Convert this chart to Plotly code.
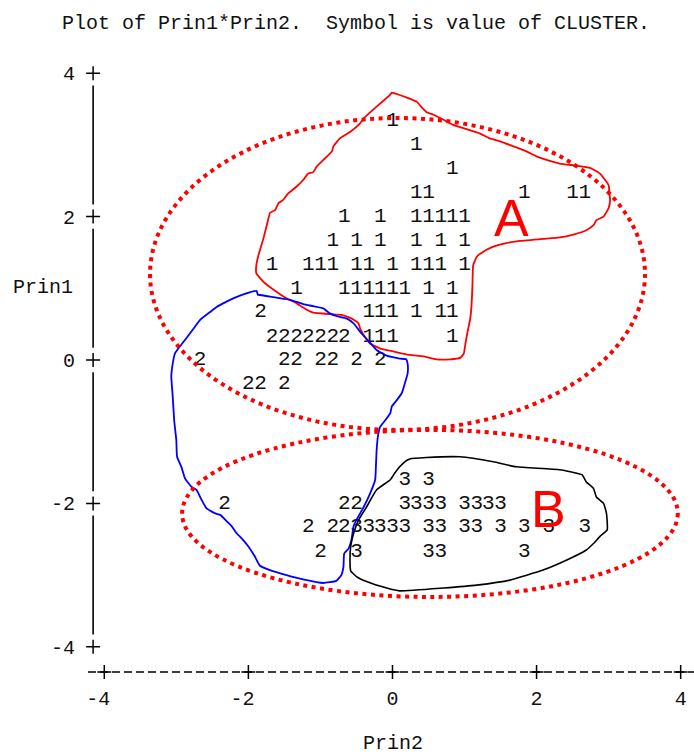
import plotly.graph_objects as go

# ---------------- data (Prin2 = x, Prin1 = y) ----------------
c1_prin2 = [0.0,
            0.33,
            0.83,
            0.33, 0.5, 1.83, 2.5, 2.67,
            -0.67, -0.17, 0.33, 0.5, 0.67, 0.83, 1.0,
            -0.83, -0.5, -0.17, 0.33, 0.67, 1.0,
            -1.67, -1.17, -1.0, -0.83, -0.5, -0.33, 0.0, 0.33, 0.5, 0.67, 1.0,
            -1.33, -0.67, -0.5, -0.33, -0.17, 0.0, 0.17, 0.5, 0.83,
            -0.33, -0.17, 0.0, 0.33, 0.67, 0.83,
            -0.33, -0.17, 0.0, 0.83]
c1_prin1 = [3.33,
            3.0,
            2.67,
            2.33, 2.33, 2.33, 2.33, 2.33,
            2.0, 2.0, 2.0, 2.0, 2.0, 2.0, 2.0,
            1.67, 1.67, 1.67, 1.67, 1.67, 1.67,
            1.33, 1.33, 1.33, 1.33, 1.33, 1.33, 1.33, 1.33, 1.33, 1.33, 1.33,
            1.0, 1.0, 1.0, 1.0, 1.0, 1.0, 1.0, 1.0, 1.0,
            0.67, 0.67, 0.67, 0.67, 0.67, 0.67,
            0.33, 0.33, 0.33, 0.33]

c2_prin2 = [-1.83,
            -1.67, -1.5, -1.33, -1.17, -1.0, -0.83, -0.67,
            -2.67, -1.5, -1.33, -1.0, -0.83, -0.5, -0.17,
            -2.0, -1.83, -1.5,
            -2.33, -0.67, -0.5,
            -1.17, -0.83, -0.67,
            -1.0]
c2_prin1 = [0.67,
            0.33, 0.33, 0.33, 0.33, 0.33, 0.33, 0.33,
            0.0, 0.0, 0.0, 0.0, 0.0, 0.0, 0.0,
            -0.33, -0.33, -0.33,
            -2.0, -2.0, -2.0,
            -2.33, -2.33, -2.33,
            -2.67]

c3_prin2 = [0.17, 0.5,
            0.17, 0.33, 0.5, 0.67, 1.0, 1.17, 1.33, 1.5,
            -0.5, -0.33, -0.17, 0.0, 0.17, 0.5, 0.67, 1.0, 1.17, 1.5, 1.83, 2.17, 2.67,
            -0.5, 0.5, 0.67, 1.83]
c3_prin1 = [-1.67, -1.67,
            -2.0, -2.0, -2.0, -2.0, -2.0, -2.0, -2.0, -2.0,
            -2.33, -2.33, -2.33, -2.33, -2.33, -2.33, -2.33, -2.33, -2.33, -2.33, -2.33, -2.33, -2.33,
            -2.67, -2.67, -2.67, -2.67]

tick_vals = [-4, -2, 0, 2, 4]
x_tick_text = ["-4\u00a0", "-2\u00a0", "0", "2", "4"]
y_tick_text = ["-4", "-2", "0", "2", "4"]

# hand-drawn outlines (data units)
outline_red_x = [-0.01, -0.03, -0.27, -0.40, -0.45, -0.59, -0.73, -0.82, -0.84, -0.96, -1.05, -1.10, -1.17,
                 -1.24, -1.33, -1.45, -1.52, -1.58, -1.63, -1.70, -1.72, -1.79, -1.86, -1.89, -1.89, -1.79,
                 -1.65, -1.47, -1.33, -1.19, -1.10, -0.87, -0.71, -0.57, -0.47, -0.45, -0.40, -0.31, -0.17,
                 0.01, 0.24, 0.43, 0.61, 0.80, 0.94, 0.99, 1.01, 1.03, 1.08, 1.10, 1.11, 1.12, 1.17, 1.26,
                 1.40, 1.58, 1.77, 2.09, 2.32, 2.51, 2.69, 2.79, 2.83, 2.93, 3.00, 3.02, 3.01, 3.00, 2.88,
                 2.74, 2.56, 2.32, 2.14, 2.00, 1.86, 1.68, 1.49, 1.35, 1.21, 1.03, 0.84, 0.71, 0.57, 0.47,
                 0.40, 0.34, 0.20, 0.06, -0.01]
outline_red_y = [3.73, 3.70, 3.49, 3.37, 3.30, 3.18, 3.09, 2.98, 2.91, 2.79, 2.70, 2.62, 2.60,
                 2.51, 2.42, 2.32, 2.23, 2.19, 2.09, 2.05, 1.98, 1.70, 1.46, 1.32, 1.21, 1.09,
                 0.98, 0.86, 0.79, 0.70, 0.66, 0.64, 0.63, 0.58, 0.51, 0.44, 0.35, 0.23, 0.16,
                 0.12, 0.07, 0.05, 0.01, 0.01, 0.03, 0.09, 0.21, 0.33, 0.58, 0.81, 1.05, 1.32, 1.44, 1.51,
                 1.58, 1.63, 1.66, 1.69, 1.71, 1.75, 1.81, 1.88, 1.95, 2.00, 2.12, 2.23, 2.35, 2.44, 2.60,
                 2.68, 2.71, 2.74, 2.79, 2.84, 2.91, 2.98, 3.05, 3.09, 3.16, 3.22, 3.28, 3.35, 3.42, 3.46,
                 3.53, 3.60, 3.66, 3.71, 3.73]

outline_blue_x = [-1.87, -1.885, -2.07, -2.21, -2.35, -2.44, -2.53, -2.67, -2.76, -2.88, -2.95, -3.02, -3.05,
                  -3.07, -3.05, -3.03, -3.00, -2.99, -2.93, -2.88, -2.79, -2.72, -2.65, -2.58, -2.46, -2.39,
                  -2.30, -2.23, -2.16, -2.09, -2.00, -1.91, -1.84, -1.70, -1.47, -1.24, -0.96, -0.78, -0.71,
                  -0.68, -0.67, -0.61, -0.57, -0.54, -0.50, -0.40, -0.31, -0.24, -0.23, -0.22, -0.20, -0.17,
                  -0.10, -0.03, -0.01, 0.06, 0.13, 0.17, 0.21, 0.21, 0.19, 0.10, -0.08, -0.22, -0.31, -0.43,
                  -0.54, -0.64, -0.77, -0.87, -0.96, -1.10, -1.24, -1.42, -1.61, -1.86, -1.87]
outline_blue_y = [0.91, 0.962, 0.916, 0.86, 0.79, 0.74, 0.67, 0.56, 0.44, 0.28, 0.19, 0.09, -0.05,
                  -0.23, -0.51, -0.84, -1.12, -1.35, -1.49, -1.65, -1.77, -1.81, -1.95, -2.07, -2.14, -2.16,
                  -2.25, -2.32, -2.42, -2.49, -2.60, -2.74, -2.87, -2.93, -3.00, -3.06, -3.11, -3.08, -3.00,
                  -2.88, -2.70, -2.63, -2.51, -2.32, -2.23, -2.05, -1.86, -1.67, -1.49, -1.26, -1.05, -0.93,
                  -0.84, -0.74, -0.65, -0.56, -0.46, -0.33, -0.19, -0.05, 0.01, 0.02, 0.06, 0.14, 0.24, 0.37,
                  0.51, 0.58, 0.61, 0.65, 0.72, 0.75, 0.78, 0.84, 0.87, 0.91, 0.91]

outline_black_x = [0.24, 0.47, 0.94, 1.40, 1.72, 2.32, 2.63, 2.69, 2.79, 2.83, 2.93, 2.97, 2.98, 2.88,
                   2.79, 2.69, 2.42, 2.09, 1.63, 1.17, 0.71, 0.10, -0.08, -0.36, -0.50, -0.58, -0.59,
                   -0.58, -0.54, -0.47, -0.36, -0.22, -0.03, 0.03, 0.10, 0.17, 0.24]
outline_black_y = [-1.38, -1.36, -1.35, -1.42, -1.49, -1.53, -1.60, -1.70, -1.79, -1.91, -2.00, -2.14, -2.37, -2.46,
                   -2.56, -2.65, -2.79, -2.93, -3.07, -3.14, -3.18, -3.22, -3.18, -3.09, -3.02, -2.94, -2.79,
                   -2.60, -2.42, -2.23, -2.05, -1.81, -1.67, -1.58, -1.49, -1.42, -1.38]

# dotted ellipses: (center x, center y, radius x, radius y)
ellipse_A = (0.07, 1.20, 3.435, 2.175)
ellipse_B = (0.52, -2.14, 3.44, 1.165)

# ---------------- figure ----------------
MONO = "Liberation Mono, DejaVu Sans Mono, monospace"
X_RANGE = [-4.337, 4.185]
Y_RANGE = [-4.463, 4.184]
Y_AXIS_X = -4.155
X_AXIS_Y = -4.351

fig = go.Figure()

for xs, ys, lab in [(c1_prin2, c1_prin1, "1"), (c2_prin2, c2_prin1, "2"), (c3_prin2, c3_prin1, "3")]:
    fig.add_trace(go.Scatter(
        x=xs, y=ys, mode="text", text=[lab] * len(xs), textposition="middle center",
        textfont=dict(family=MONO, size=21, color="#111111"),
        cliponaxis=False, showlegend=False, hoverinfo="skip", name="CLUSTER " + lab))

# y axis: '|' segments broken around each '+'
gap = 0.17
seg_x, seg_y = [], []
for a, b in zip(tick_vals[:-1], tick_vals[1:]):
    seg_x += [Y_AXIS_X, Y_AXIS_X, None]
    seg_y += [a + gap, b - gap, None]
fig.add_trace(go.Scatter(x=seg_x, y=seg_y, mode="lines", line=dict(color="black", width=1.6),
                         showlegend=False, hoverinfo="skip"))
# x axis: dashed '-' line
fig.add_trace(go.Scatter(x=[X_RANGE[0] + 0.111, X_RANGE[1]], y=[X_AXIS_Y, X_AXIS_Y], mode="lines",
                         line=dict(color="black", width=1.4, dash="8px,4px"),
                         showlegend=False, hoverinfo="skip"))
# '+' tick marks
cross = dict(symbol="cross-thin", size=10, line=dict(width=1.5, color="black"), color="black")
fig.add_trace(go.Scatter(x=[Y_AXIS_X] * len(tick_vals), y=tick_vals, mode="markers", marker=cross,
                         cliponaxis=False, showlegend=False, hoverinfo="skip"))
fig.add_trace(go.Scatter(x=tick_vals, y=[X_AXIS_Y] * len(tick_vals), mode="markers", marker=cross,
                         cliponaxis=False, showlegend=False, hoverinfo="skip"))

# hand-drawn outlines
fig.add_trace(go.Scatter(x=outline_red_x, y=outline_red_y, mode="lines",
                         line=dict(color="#ff0000", width=1.8, shape="spline", smoothing=0.4),
                         showlegend=False, hoverinfo="skip"))
fig.add_trace(go.Scatter(x=outline_blue_x, y=outline_blue_y, mode="lines",
                         line=dict(color="#0000ff", width=1.8, shape="spline", smoothing=0.4),
                         showlegend=False, hoverinfo="skip"))
fig.add_trace(go.Scatter(x=outline_black_x, y=outline_black_y, mode="lines",
                         line=dict(color="#000000", width=1.6, shape="spline", smoothing=0.4),
                         showlegend=False, hoverinfo="skip"))

for cx, cy, rx, ry in (ellipse_A, ellipse_B):
    fig.add_shape(type="circle", xref="x", yref="y", x0=cx - rx, x1=cx + rx, y0=cy - ry, y1=cy + ry,
                  line=dict(color="#ff0000", width=4, dash="4px,4.5px"), layer="above")

fig.add_annotation(x=1.654, y=1.98, xref="x", yref="y", text="A", showarrow=False,
                   font=dict(family="Liberation Sans, Arial, sans-serif", size=52, color="#ff0000"),
                   xanchor="center", yanchor="middle")
fig.add_annotation(x=2.17, y=-2.08, xref="x", yref="y", text="B", showarrow=False,
                   font=dict(family="Liberation Sans, Arial, sans-serif", size=52, color="#ff0000"),
                   xanchor="center", yanchor="middle")

# axis titles (paper coordinates so they can sit outside the plotting area)
fig.add_annotation(x=(43 - 80) / 614, y=(680 - 287) / 620, xref="paper", yref="paper", text="Prin1",
                   showarrow=False, font=dict(family=MONO, size=20, color="#111111"),
                   xanchor="center", yanchor="middle")
fig.add_annotation(x=(392.5 - 80) / 614, y=(680 - 743) / 620, xref="paper", yref="paper", text="Prin2",
                   showarrow=False, font=dict(family=MONO, size=20, color="#111111"),
                   xanchor="center", yanchor="middle")

fig.update_layout(
    width=694, height=755, autosize=False,
    margin=dict(l=80, r=0, t=60, b=75, pad=0),
    paper_bgcolor="white", plot_bgcolor="white",
    title=dict(text="Plot of Prin1*Prin2.\u00a0 Symbol is value of CLUSTER.",
               xref="container", yref="container", x=62 / 694, xanchor="left",
               y=1 - 22 / 755, yanchor="middle",
               font=dict(family=MONO, size=20, color="#111111")),
    xaxis=dict(range=X_RANGE, showgrid=False, zeroline=False, showline=False, ticks="",
               tickvals=tick_vals, ticktext=x_tick_text, ticklabelstandoff=4,
               tickfont=dict(family=MONO, size=20, color="#111111"), fixedrange=True),
    yaxis=dict(range=Y_RANGE, showgrid=False, zeroline=False, showline=False, ticks="",
               tickvals=tick_vals, ticktext=y_tick_text, ticklabelstandoff=4,
               tickfont=dict(family=MONO, size=20, color="#111111"), fixedrange=True),
    showlegend=False,
)

fig.write_html("out.html")
